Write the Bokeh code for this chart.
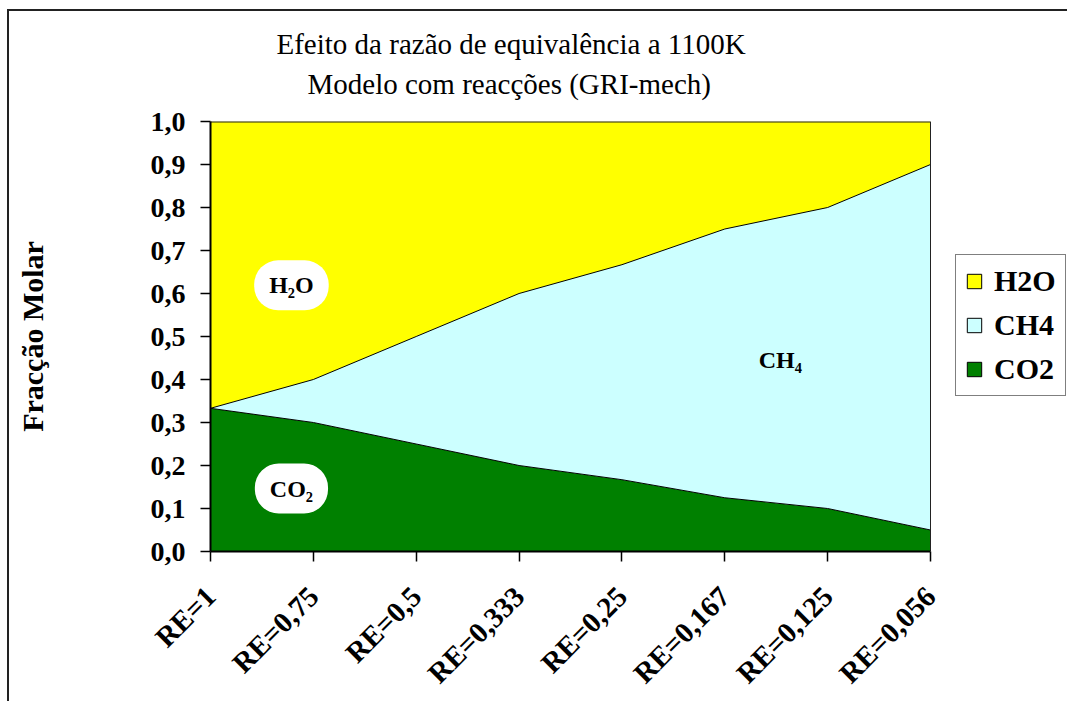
import math
from bokeh.plotting import figure
from bokeh.models import (ColumnDataSource, FixedTicker, Label, Legend, LegendItem, Title,
                          CustomJSTickFormatter, Range1d)
from bokeh.embed import file_html
from bokeh.resources import INLINE

categories = ["RE=1", "RE=0,75", "RE=0,5", "RE=0,333", "RE=0,25", "RE=0,167", "RE=0,125", "RE=0,056"]
co2 = [0.333, 0.30, 0.25, 0.20, 0.167, 0.125, 0.10, 0.05]
ch4 = [0.0, 0.10, 0.25, 0.40, 0.50, 0.625, 0.70, 0.85]
h2o = [0.667, 0.60, 0.50, 0.40, 0.333, 0.25, 0.20, 0.10]
y_ticks = [0.0, 0.1, 0.2, 0.3, 0.4, 0.5, 0.6, 0.7, 0.8, 0.9, 1.0]

title_lines = ["Efeito da razão de equivalência a 1100K", "Modelo com reacções (GRI-mech)"]
y_label = "Fracção Molar"

FONT = "Liberation Serif"
C_H2O = "#FFFF00"
C_CH4 = "#CCFFFF"
C_CO2 = "#008000"

# layout (pixels)
CANVAS_X0 = 9
FRAME_L, PLOT_R = 210, 930          # plot-area left / right edge
FIG_W = 1060
CANVAS_R = CANVAS_X0 + FIG_W        # frame extends to canvas edge (legend lives inside it)

xs = list(range(len(categories)))
co2_top = co2[:]
ch4_top = [a + b for a, b in zip(co2, ch4)]
src = ColumnDataSource(dict(x=xs, co2=co2, ch4=ch4, h2o=h2o, co2_top=co2_top, ch4_top=ch4_top))

x_end = xs[-1] * (CANVAS_R - FRAME_L) / (PLOT_R - FRAME_L)
p = figure(width=FIG_W, height=692, output_backend="svg", toolbar_location=None,
           x_range=Range1d(xs[0], x_end), y_range=Range1d(0, 1),
           min_border_left=FRAME_L - CANVAS_X0, min_border_top=110, min_border_right=0,
           min_border_bottom=152, title=None)
p.styles = {"margin-left": "7px", "margin-top": "9px",
            "border-left": "2px solid #222", "border-top": "2px solid #222"}
p.background_fill_color = "white"
p.border_fill_color = "white"
p.outline_line_color = None
p.xgrid.visible = False
p.ygrid.visible = False

p.varea_stack(["co2", "ch4", "h2o"], x="x", source=src, color=[C_CO2, C_CH4, C_H2O])
p.line("x", "co2_top", source=src, line_color="black", line_width=1)
p.line("x", "ch4_top", source=src, line_color="black", line_width=1)
# plot-area border (top and right edges)
p.line(x=[xs[0], xs[-1]], y=[y_ticks[-1], y_ticks[-1]], line_color="#222", line_width=2)
p.line(x=[xs[-1], xs[-1]], y=[y_ticks[0], y_ticks[-1]], line_color="#222", line_width=1)

# axes
p.xaxis.ticker = FixedTicker(ticks=xs)
p.xaxis.bounds = (xs[0], xs[-1])
p.xaxis.formatter = CustomJSTickFormatter(args=dict(labels=categories),
                                          code="return labels[Math.round(tick)];")
p.xaxis.major_label_orientation = math.pi / 4
p.yaxis.ticker = FixedTicker(ticks=y_ticks)
p.yaxis.formatter = CustomJSTickFormatter(code="return tick.toFixed(1).replace('.', ',');")
for ax in (p.xaxis[0], p.yaxis[0]):
    ax.axis_line_color = "black"
    ax.axis_line_width = 2
    ax.major_tick_line_color = "black"
    ax.major_tick_line_width = 1.5
    ax.major_tick_in = 0
    ax.major_tick_out = 10
    ax.minor_tick_line_color = None
    ax.major_label_text_font = FONT
    ax.major_label_text_font_style = "bold"
    ax.major_label_text_font_size = "28px"
    ax.major_label_text_color = "black"
p.xaxis.major_label_text_font_size = "29px"
p.yaxis.major_label_standoff = 15
p.xaxis.major_label_standoff = 30
p.yaxis.axis_label = y_label
p.yaxis.axis_label_text_font = FONT
p.yaxis.axis_label_text_font_style = "bold"
p.yaxis.axis_label_text_font_size = "30px"
p.yaxis.axis_label_text_color = "black"
p.yaxis.axis_label_standoff = 99

# title: spacer nearest the plot, then line 2, then line 1
p.add_layout(Title(text=" ", text_font=FONT, text_font_size="10px", standoff=3), "above")
p.add_layout(Title(text=title_lines[1], text_font=FONT, text_font_size="29px",
                   text_font_style="normal", text_color="black", align="left", offset=97,
                   standoff=12), "above")
p.add_layout(Title(text=title_lines[0], text_font=FONT, text_font_size="29px",
                   text_font_style="normal", text_color="black", align="left", offset=66,
                   standoff=0), "above")

# in-chart labels
box_pad = dict(left=15, right=15, top=12, bottom=12)
p.add_layout(Label(x=0.787, y=0.619, text="H₂O", text_font=FONT, text_font_style="bold",
                   text_font_size="24px", text_align="center", text_baseline="middle",
                   text_color="black", background_fill_color="white", border_radius=24,
                   padding=box_pad))
p.add_layout(Label(x=0.787, y=0.1465, text="CO₂", text_font=FONT, text_font_style="bold",
                   text_font_size="24px", text_align="center", text_baseline="middle",
                   text_color="black", background_fill_color="white", border_radius=24,
                   padding=box_pad))
p.add_layout(Label(x=5.54, y=0.445, text="CH₄", text_font=FONT, text_font_style="bold",
                   text_font_size="24px", text_align="center", text_baseline="middle",
                   text_color="black"))

# legend (swatch renderers hold no drawable data)
nan = float("nan")
def swatch(color):
    s = ColumnDataSource(dict(left=[nan], right=[nan], top=[nan], bottom=[nan]))
    return p.quad(source=s, left="left", right="right", top="top", bottom="bottom",
                  fill_color=color, line_color="black", line_width=1)
r_h2o, r_ch4, r_co2 = swatch(C_H2O), swatch(C_CH4), swatch(C_CO2)
legend = Legend(items=[LegendItem(label="H2O", renderers=[r_h2o]),
                       LegendItem(label="CH4", renderers=[r_ch4]),
                       LegendItem(label="CO2", renderers=[r_co2])],
                location=(745, 155))
legend.label_text_font = FONT
legend.label_text_font_style = "bold"
legend.label_text_font_size = "30px"
legend.label_text_color = "black"
legend.glyph_width = 18
legend.glyph_height = 18
legend.label_height = 34
legend.spacing = 10
legend.padding = 9
legend.margin = 0
legend.label_standoff = 11
legend.border_line_color = "black"
legend.border_line_width = 1
legend.background_fill_color = "white"
legend.background_fill_alpha = 1
p.add_layout(legend, "center")

open("out.html", "w").write(file_html(p, INLINE))
